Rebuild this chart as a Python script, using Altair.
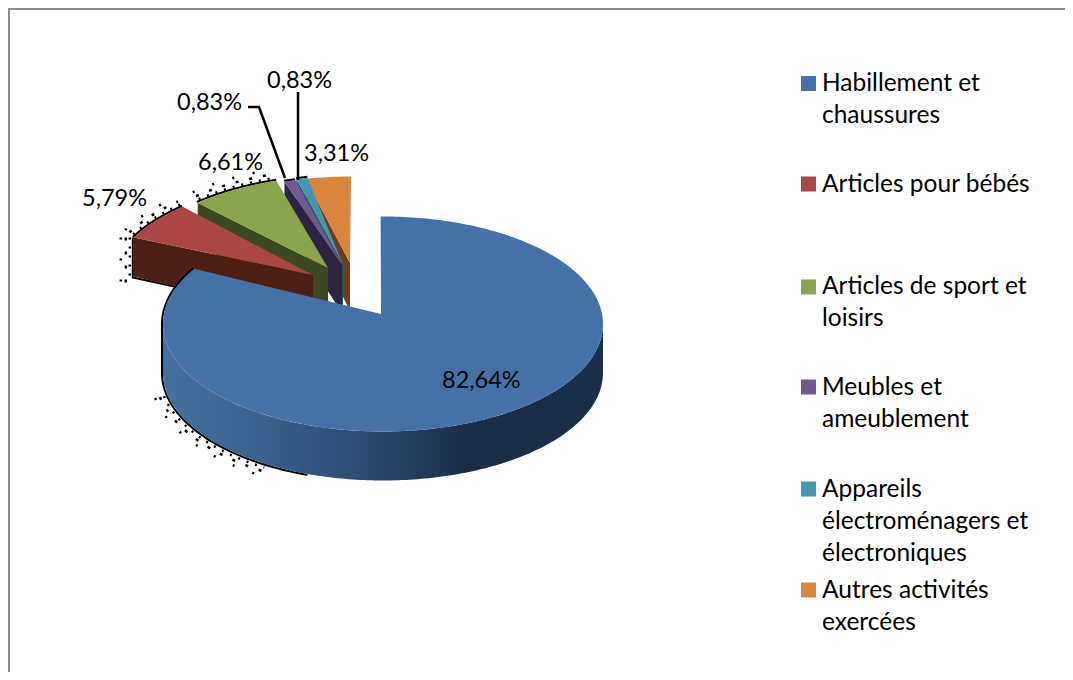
import math
import altair as alt

# ---- data ----
categories = ["Habillement et chaussures", "Articles pour bébés", "Articles de sport et loisirs",
              "Meubles et ameublement", "Appareils électroménagers et électroniques", "Autres activités exercées"]
shares = [82.64, 5.79, 6.61, 0.83, 0.83, 3.31]
value_labels = ["82,64%", "5,79%", "6,61%", "0,83%", "0,83%", "3,31%"]
legend_lines = [["Habillement et", "chaussures"], ["Articles pour bébés"], ["Articles de sport et", "loisirs"],
                ["Meubles et", "ameublement"], ["Appareils", "électroménagers et", "électroniques"],
                ["Autres activités", "exercées"]]

# ---- styles / layout ----
top_colors = ["#4471A8", "#AA4643", "#89A54E", "#71588F", "#4198AF", "#DB843D"]
wall_colors = [None, "#4E1F14", "#3B4A20", "#2E2440", "#1D5566", "#6B3F17"]
CX, CY, RX, RY = 383, 324, 220, 107.5
APEX = (381, 314)
START_SKEW = -2.5       # perspective: the near slice's first edge leans slightly left
END_SKEW = 3.5          # perspective: the near slice's last edge sits slightly further round
rim_offset = [(0, 0), (-54, -37), (-39, -41), (-31, -40), (-30, -41), (-32, -40)]
apex_offset = [(0, 0), (-68, -39), (-53, -46), (-39, -49), (-38, -49), (-31, -51)]
wall_h = [49, 39, 42, 42, 42, 42]
label_xy = [(442, 388), (82, 206), (198, 170), (177, 110), (267, 88), (304, 161)]
legend_x, text_x = 808.5, 822
legend_sq_y = [83.5, 184, 287, 387, 489, 590]
legend_base_y = [91, 192, 294, 395, 497, 598]
line_h = 32
FONT = "Lato"


def rim(t, dx=0, dy=0, grow=0):
    a = math.radians(t)
    return [CX + (RX + grow) * math.sin(a) + dx, CY - (RY + grow) * math.cos(a) + dy]


def arc(t0, t1, dx=0, dy=0, grow=0):
    n = max(2, int(abs(t1 - t0)) + 1)
    return [rim(t0 + (t1 - t0) * k / (n - 1), dx, dy, grow) for k in range(n)]


def shape(coords, kind="Polygon", **mark):
    if kind == "Polygon":
        geom = {"type": "Polygon", "coordinates": [coords + [coords[0]]]}
    else:
        geom = {"type": "LineString", "coordinates": coords}
        mark.setdefault("filled", False)
    return alt.Chart(alt.Data(values=[{"type": "Feature", "properties": {}, "geometry": geom}])).mark_geoshape(**mark)


total = sum(shares)
edges = [0]
for s in shares:
    edges.append(edges[-1] + s / total * 360)

layers = []

# speckled, photocopied shadow round the upper-left edges
speck = dict(stroke="#000000", strokeWidth=2.5, strokeCap="butt")
for grow, dash in [(4, [2, 7]), (8, [3, 11]), (13, [2, 19])]:
    layers.append(shape(arc(258, 212, 0, wall_h[0], grow), "Line", strokeDash=dash, **speck))
    for i in (1, 2):
        dx, dy = rim_offset[i]
        layers.append(shape(arc(edges[i] + 1, edges[i + 1], dx, dy, grow - 1), "Line", strokeDash=dash, **speck))
    dx, dy = rim_offset[1]
    corner = rim(edges[1], dx, dy)
    layers.append(shape([[corner[0] - grow, corner[1]], [corner[0] - grow, corner[1] + wall_h[1] + grow]], "Line",
                        strokeDash=dash, **speck))
for i in (1, 2, 3, 4):
    dx, dy = rim_offset[i]
    layers.append(shape(arc(edges[i], edges[i + 1], dx, dy, 1), "Line", stroke="#000000", strokeWidth=2))
dx, dy = rim_offset[1]
corner = rim(edges[1], dx, dy)
layers.append(shape([[corner[0] - 1, corner[1]], [corner[0] - 1, corner[1] + wall_h[1] + 1],
                     [corner[0] + 45, corner[1] + wall_h[1] + 11]], "Line", stroke="#000000", strokeWidth=2))

# exploded small slices, back to front
for i in [5, 4, 3, 2, 1]:
    rdx, rdy = rim_offset[i]
    ap = [APEX[0] + apex_offset[i][0], APEX[1] + apex_offset[i][1]]
    start = rim(edges[i], rdx, rdy)
    h = wall_h[i]
    layers.append(shape([start, ap, [ap[0], ap[1] + h + 6], [start[0], start[1] + h]], fill=wall_colors[i]))
    layers.append(shape([ap] + arc(edges[i], edges[i + 1], rdx, rdy), fill=top_colors[i]))

# big slice: outline, wall and top
layers.append(shape(arc(edges[1] + END_SKEW, 270, 0, 0, 1) + arc(270, 200, 0, wall_h[0], 1), "Line",
                    stroke="#000000", strokeWidth=2))
wall_grad = alt.LinearGradient(gradient="linear",
                               stops=[alt.GradientStop(color="#44719F", offset=0),
                                      alt.GradientStop(color="#3A6490", offset=0.2),
                                      alt.GradientStop(color="#2B4C74", offset=0.45),
                                      alt.GradientStop(color="#1A2D47", offset=0.7),
                                      alt.GradientStop(color="#1C2F4A", offset=1)],
                               x1=0, x2=1, y1=0, y2=0)
lower = arc(90, 270)
layers.append(shape(lower + [[p[0], p[1] + wall_h[0]] for p in reversed(lower)], fill=wall_grad))
layers.append(shape([list(APEX)] + arc(edges[0] + START_SKEW / 4, edges[1] + END_SKEW), fill=top_colors[0]))

# leader lines
lead = dict(stroke="#000000", strokeWidth=2.5)
layers.append(shape([[248, 107], [259, 107], [285, 178]], "Line", **lead))
layers.append(shape([[298, 92], [298, 180]], "Line", **lead))

# frame (top and left only)
frame = dict(fill="#8C8C8C")
layers.append(shape([[8, 8], [1073, 8], [1073, 10], [8, 10]], **frame))
layers.append(shape([[8, 8], [10, 8], [10, 688], [8, 688]], **frame))

# value labels
label_rows = [{"x": x, "y": y, "t": t} for (x, y), t in zip(label_xy, value_labels)]
layers.append(alt.Chart(alt.Data(values=label_rows)).mark_text(
    font=FONT, fontSize=23.5, align="left", baseline="alphabetic", color="#000000"
).encode(longitude="x:Q", latitude="y:Q", text="t:N"))

# legend
sq_rows = [{"x": legend_x, "y": y, "c": c} for y, c in zip(legend_sq_y, top_colors)]
layers.append(alt.Chart(alt.Data(values=sq_rows)).mark_square(size=225, opacity=1, filled=True).encode(
    longitude="x:Q", latitude="y:Q", color=alt.Color("c:N", scale=None, legend=None)))
text_rows = []
for base, lines in zip(legend_base_y, legend_lines):
    for k, line in enumerate(lines):
        text_rows.append({"x": text_x, "y": base + k * line_h, "t": line})
layers.append(alt.Chart(alt.Data(values=text_rows)).mark_text(
    font=FONT, fontSize=24.5, align="left", baseline="alphabetic", color="#000000"
).encode(longitude="x:Q", latitude="y:Q", text="t:N"))

chart = alt.layer(*layers).project(type="identity", scale=1, translate=[-8, -8]).properties(
    width=1057, height=664, padding=0, background="#FFFFFF",
    autosize=alt.AutoSizeParams(type="none")
).configure_view(stroke=None)

chart.save("out.html", embed_options={"renderer": "svg", "actions": False})
